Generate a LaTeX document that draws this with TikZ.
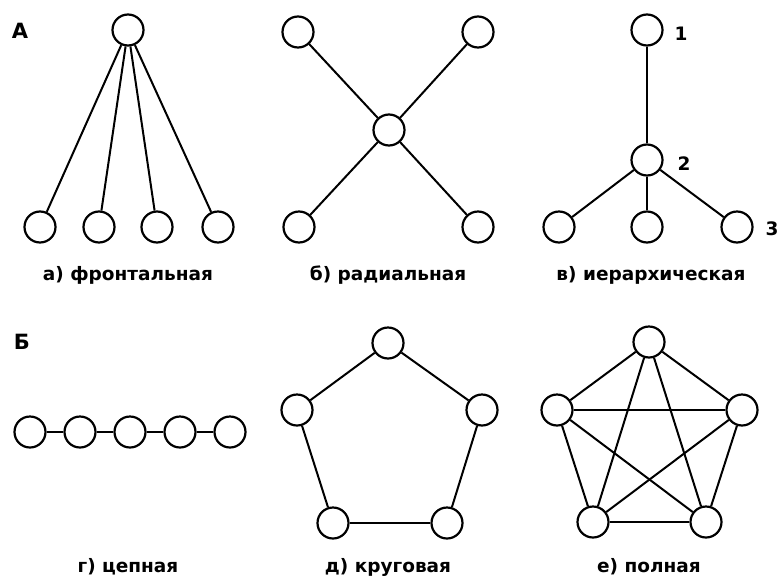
\documentclass[tikz,border=0pt]{standalone}
\usepackage{fontspec}
\setmainfont{DejaVu Sans}
\begin{document}
\begin{tikzpicture}[x=1pt,y=-1pt,
  vertex/.style={circle, draw=black, line width=2.2pt, minimum size=31pt, inner sep=0pt},
  edge/.style={line width=2pt, black},
  caption/.style={font=\fontsize{18.5}{20}\selectfont\bfseries},
  tag/.style={font=\fontsize{21}{24}\selectfont\bfseries},
  num/.style={font=\fontsize{18.5}{20}\selectfont\bfseries}]
\useasboundingbox[fill=white] (0,0) rectangle (779,576);

% ---------- A ----------
\node[tag] (tA) at (20,31) {А};

% a) frontal
\node[vertex] (a0) at (128,30) {};
\node[vertex] (a1) at (40,227) {};
\node[vertex] (a2) at (99,227) {};
\node[vertex] (a3) at (157,227) {};
\node[vertex] (a4) at (218,227) {};
\foreach \i in {1,...,4} \draw[edge] (a0) -- (a\i);
\node[caption] (ca) at (128,275) {а) фронтальная};

% b) radial
\node[vertex] (b0) at (389,130) {};
\node[vertex] (b1) at (298,32) {};
\node[vertex] (b2) at (478,32) {};
\node[vertex] (b3) at (299,227) {};
\node[vertex] (b4) at (478,227) {};
\foreach \i in {1,...,4} \draw[edge] (b0) -- (b\i);
\node[caption] (cb) at (388,275) {б) радиальная};

% c) hierarchical
\node[vertex] (h1) at (647,30) {};
\node[vertex] (h2) at (647,160) {};
\node[vertex] (h3) at (559,227) {};
\node[vertex] (h4) at (647,227) {};
\node[vertex] (h5) at (737,227) {};
\draw[edge, line width=1.5pt] (h1) -- (h2);
\foreach \i in {3,4,5} \draw[edge] (h2) -- (h\i);
\node[num] (n1) at (681,34) {1};
\node[num] (n2) at (684,164) {2};
\node[num] (n3) at (772,229) {3};
\node[caption] (cc) at (651,275) {в) иерархическая};

% ---------- Б ----------
\node[tag] (tB) at (22,342) {Б};

% d) chain
\foreach \i/\x in {1/30,2/80,3/130,4/180,5/230}
  \node[vertex] (g\i) at (\x,432) {};
\foreach \i/\j in {1/2,2/3,3/4,4/5} \draw[edge] (g\i) -- (g\j);
\node[caption] (cg) at (128,567) {г) цепная};

% e) ring
\node[vertex] (r1) at (388,343) {};
\node[vertex] (r2) at (482,410) {};
\node[vertex] (r3) at (447,523) {};
\node[vertex] (r4) at (333,523) {};
\node[vertex] (r5) at (297,410) {};
\foreach \i/\j in {1/2,2/3,3/4,4/5,5/1} \draw[edge] (r\i) -- (r\j);
\node[caption] (cd) at (388,567) {д) круговая};

% f) complete
\node[vertex] (p1) at (649,342) {};
\node[vertex] (p2) at (742,410) {};
\node[vertex] (p3) at (706,522) {};
\node[vertex] (p4) at (593,522) {};
\node[vertex] (p5) at (557,410) {};
\foreach \i/\j in {1/2,1/3,1/4,1/5,2/3,2/4,2/5,3/4,3/5,4/5} \draw[edge] (p\i) -- (p\j);
\node[caption] (ce) at (649,567) {е) полная};
\end{tikzpicture}
\end{document}
